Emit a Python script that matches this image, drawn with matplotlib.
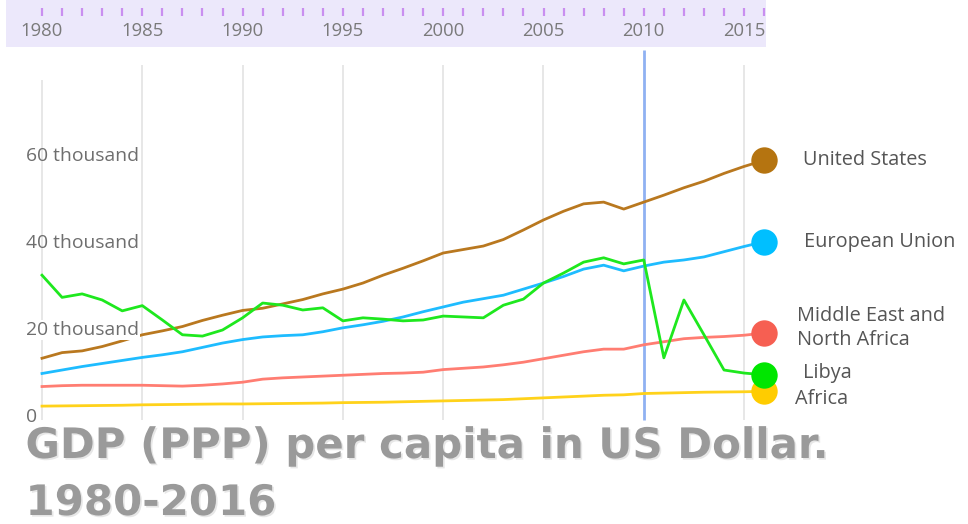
import matplotlib
matplotlib.use("Agg")
import matplotlib.pyplot as plt
import matplotlib.patheffects as pe

# ---------------- data (thousands of US$) ----------------
years = list(range(1980, 2017))

us = [13.5, 14.8, 15.2, 16.2, 17.5, 18.9, 19.8, 20.8, 22.2, 23.4,
      24.5, 25.0, 26.0, 27.0, 28.3, 29.4, 30.8, 32.6, 34.2, 35.9,
      37.7, 38.5, 39.3, 40.8, 43.0, 45.3, 47.3, 49.0, 49.4, 47.8,
      49.4, 51.0, 52.7, 54.2, 56.0, 57.6, 59.0]
eu = [10.0, 10.8, 11.6, 12.3, 13.0, 13.7, 14.3, 15.0, 16.0, 17.0,
      17.8, 18.4, 18.7, 18.9, 19.6, 20.5, 21.2, 22.0, 23.0, 24.2,
      25.3, 26.4, 27.2, 28.0, 29.4, 30.8, 32.3, 34.0, 34.9, 33.6,
      34.7, 35.6, 36.1, 36.8, 38.0, 39.2, 40.3]
mena = [7.0, 7.2, 7.3, 7.3, 7.3, 7.3, 7.2, 7.1, 7.3, 7.6,
        8.0, 8.7, 9.0, 9.2, 9.4, 9.6, 9.8, 10.0, 10.1, 10.3,
        10.9, 11.2, 11.5, 12.0, 12.6, 13.4, 14.2, 15.0, 15.6, 15.6,
        16.6, 17.3, 18.0, 18.3, 18.5, 18.8, 19.3]
libya = [32.6, 27.5, 28.3, 26.9, 24.4, 25.6, 22.3, 18.9, 18.6, 20.0,
         22.8, 26.2, 25.7, 24.6, 25.1, 22.1, 22.8, 22.5, 22.1, 22.3,
         23.2, 23.0, 22.8, 25.7, 27.1, 30.8, 33.1, 35.6, 36.6, 35.2,
         36.1, 13.6, 26.9, 18.9, 10.8, 10.1, 9.7]
africa = [2.5, 2.55, 2.6, 2.65, 2.7, 2.8, 2.85, 2.9, 2.95, 3.0,
          3.0, 3.05, 3.1, 3.15, 3.2, 3.3, 3.35, 3.4, 3.5, 3.6,
          3.7, 3.8, 3.9, 4.0, 4.2, 4.4, 4.6, 4.8, 5.0, 5.1,
          5.4, 5.5, 5.6, 5.7, 5.75, 5.8, 5.9]

series_names = ["Africa", "Middle East and\nNorth Africa", "European Union",
                "United States", "Libya"]
series_values = [africa, mena, eu, us, libya]
line_colors = ["#ffd21a", "#ff7d72", "#1ebcff", "#b9781f", "#1ee81e"]
marker_colors = ["#ffcc00", "#f65f52", "#00bfff", "#b57410", "#00e600"]
label_offsets = [(22, -5.5), (23.5, 3.5), (28.5, 0), (28, 0.5), (28, 1.5)]

ytick_values = [0, 20000, 40000, 60000]
ytick_labels = ["0", "20 thousand", "40 thousand", "60 thousand"]
slider_label_years = [1980, 1985, 1990, 1995, 2000, 2005, 2010, 2015]
grid_years = [1985, 1990, 1995, 2000, 2005, 2015]
selected_year = 2010

title_lines = ["GDP (PPP) per capita in US Dollar.", "1980-2016"]

# ---------------- figure ----------------
W, H, DPI = 968, 524, 100
fig = plt.figure(figsize=(W / DPI, H / DPI), dpi=DPI)
fig.patch.set_facecolor("white")

PX_PER_YEAR = 20.06
X0_PX = 42          # pixel of 1980
Y0_PX = 417         # pixel (from top) of value 0
PX_PER_K = 4.35     # pixels per 1000 $

def year_at(px):
    return 1980 + (px - X0_PX) / PX_PER_YEAR

def val_at(py):
    return (Y0_PX - py) / PX_PER_K * 1000

ax = fig.add_axes([0, 0, 1, 1])
ax.set_xlim(year_at(0), year_at(W))
ax.set_ylim(val_at(H), val_at(0))
ax.axis("off")

# vertical gridlines
ax.vlines(grid_years, val_at(420), val_at(65), color="#e3e3e3", lw=1.2, zorder=1)
ax.vlines([1980], val_at(420), val_at(80), color="#e3e3e3", lw=1.2, zorder=1)
ax.vlines([selected_year], val_at(420), val_at(50), color="#8fb1f2", lw=2.0, zorder=1)

# lines
for vals, lc in zip(series_values, line_colors):
    ax.plot(years, [v * 1000 for v in vals], color=lc, lw=2.0,
            solid_joinstyle="round", zorder=3)

# end markers + labels
for name, vals, mc, off in zip(series_names, series_values, marker_colors, label_offsets):
    ax.plot([years[-1]], [vals[-1] * 1000], "o", ms=19, color=mc, mec="none", zorder=5)
    ax.annotate(name, xy=(years[-1], vals[-1] * 1000), xytext=off,
                textcoords="offset points", ha="left", va="center",
                fontsize=14.3, family=["Open Sans", "DejaVu Sans"],
                color="#555555", linespacing=1.25, zorder=6)

# y labels
ytrans = ax.get_yaxis_transform()
for v, lab in zip(ytick_values, ytick_labels):
    ax.text(26 / W, v, lab, transform=ytrans, ha="left", va="center",
            fontsize=13.9, family=["Open Sans", "DejaVu Sans"], color="#6e6e6e",
            zorder=4,
            bbox=dict(facecolor="white", edgecolor="none", pad=0.5) if v == 20000 else None)

# ---------------- slider ----------------
sl = fig.add_axes([6 / W, (H - 47) / H, (766 - 6) / W, 47 / H])
sl.set_xlim(year_at(6), year_at(766))
sl.set_ylim(47, 0)
sl.set_facecolor("#ece8fb")
for s in sl.spines.values():
    s.set_visible(False)
sl.set_xticks([])
sl.set_yticks([])
sl.vlines(years, 7.5, 16, color="#c98ff0", lw=1.6)
for y in slider_label_years:
    sl.text(y, 31.5, str(y), ha="center", va="center", fontsize=13.3,
            family=["Open Sans", "DejaVu Sans"], color="#7a7a7a")

# ---------------- title ----------------
shadow = [pe.withSimplePatchShadow(offset=(1.2, -1.2), shadow_rgbFace="#bbbbbb", alpha=0.35)]
fig.text(25.5 / W, 1 - 458 / H, title_lines[0], ha="left", va="baseline",
         fontsize=30.2, fontweight="bold", family=["DejaVu Sans"], color="#9a9a9a",
         path_effects=shadow)
fig.text(25.5 / W, 1 - 515 / H, title_lines[1], ha="left", va="baseline",
         fontsize=30.2, fontweight="bold", family=["DejaVu Sans"], color="#9a9a9a",
         path_effects=shadow)

fig.savefig("out.png", dpi=DPI, facecolor="white")
